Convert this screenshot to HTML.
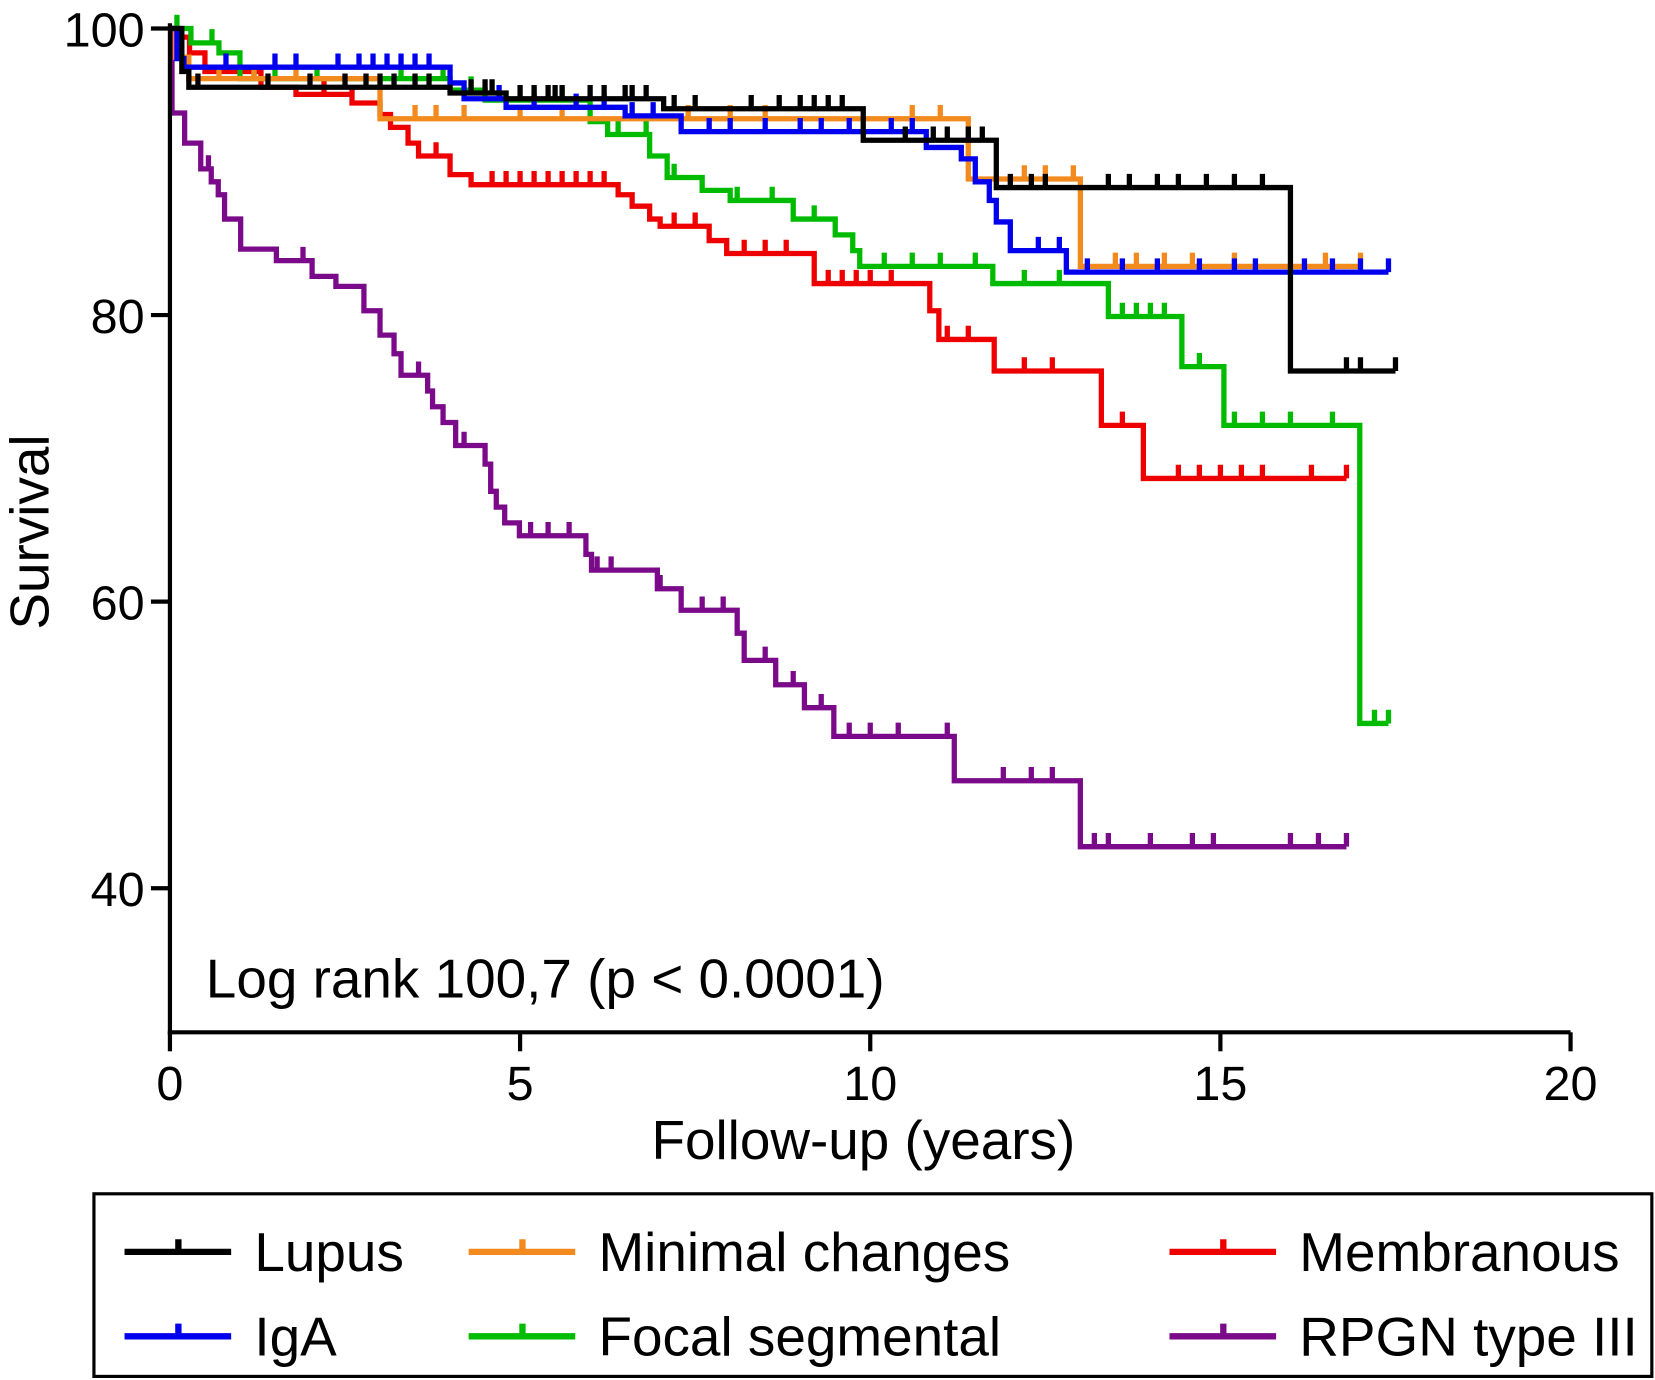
<!DOCTYPE html>
<html><head><meta charset="utf-8"><style>
html,body{margin:0;padding:0;background:#fff;}
svg{display:block;}
text{font-family:"Liberation Sans",Arial,sans-serif;fill:#000;}
</style></head><body>
<svg id="chart" width="1655" height="1380" viewBox="0 0 1568 1307.4" preserveAspectRatio="none" xmlns="http://www.w3.org/2000/svg">
<g id="plot"></g>
<line x1="161" y1="22" x2="161" y2="980" stroke="#000" stroke-width="4"/>
<line x1="159" y1="978" x2="1488" y2="978" stroke="#000" stroke-width="4"/>
<g id="axes"></g>
<text x="0" y="0" font-size="52" text-anchor="middle" transform="translate(46,504) rotate(-90)">Survival</text>
<text x="818" y="1098" font-size="52" text-anchor="middle">Follow-up (years)</text>
<text x="195" y="945" font-size="52">Log rank 100,7 (p &lt; 0.0001)</text>
<rect x="89" y="1131" width="1476" height="173" fill="none" stroke="#000" stroke-width="3"/>
<g id="legend"></g>
</svg>
<script>
const seriesNames = ["Lupus","Minimal changes","Membranous","IgA","Focal segmental","RPGN type III"];
const seriesColors = ["#000000","#f28a1e","#ee0000","#0000ee","#00bb00","#7b0a8a"];
const lupusSteps = [[0.17,97],[0.27,95.9],[4.0,95.5],[4.8,95.1],[7.05,94.4],[9.9,92.2],[11.8,88.9],[16.0,76.1]];
const minimalSteps = [[0.08,98],[0.27,96.5],[3.0,93.7],[11.4,89.5],[13.0,83.4]];
const membranousSteps = [[0.13,99.4],[0.28,98.3],[0.5,97],[1.3,95.9],[1.8,95.4],[2.6,94.8],[3.0,94.0],[3.15,93.1],[3.4,92.0],[3.55,91.1],[4.0,89.8],[4.3,89.1],[6.4,88.4],[6.6,87.6],[6.85,86.7],[7.0,86.2],[7.7,85.2],[7.95,84.3],[9.2,82.2],[10.85,80.3],[10.98,78.3],[11.77,76.1],[13.3,72.3],[13.9,68.6]];
const igaSteps = [[0.1,97.9],[0.2,97.3],[4.0,96.2],[4.2,95.1],[4.8,94.5],[6.5,93.9],[7.3,92.8],[10.8,91.7],[11.3,90.9],[11.5,89.3],[11.7,88.0],[11.8,86.5],[12.0,84.5],[12.8,83.0]];
const focalSteps = [[0.3,99],[0.7,98.3],[1.0,96.5],[4.0,95.7],[4.5,95.0],[6.0,93.5],[6.25,92.6],[6.85,91.1],[7.1,89.6],[7.6,88.7],[8.0,88.0],[8.9,86.7],[9.5,85.6],[9.75,84.5],[9.85,83.4],[11.75,82.2],[13.4,79.9],[14.45,76.4],[15.05,72.3],[16.99,51.5]];
const rpgnSteps = [[0.03,94.1],[0.21,92.0],[0.44,90.2],[0.59,89.3],[0.69,88.4],[0.78,86.7],[1.01,84.6],[1.52,83.8],[2.03,82.7],[2.37,82.0],[2.77,80.3],[3.0,78.6],[3.2,77.3],[3.3,75.8],[3.68,74.7],[3.75,73.6],[3.9,72.5],[4.08,70.9],[4.5,69.6],[4.58,67.7],[4.66,66.6],[4.78,65.5],[4.99,64.6],[5.94,63.3],[6.02,62.2],[6.96,60.9],[7.3,59.4],[8.1,57.8],[8.2,55.9],[8.65,54.2],[9.06,52.6],[9.48,50.6],[11.2,47.5],[13.0,42.9]];
const seriesEnds = [17.5,17.0,16.8,17.4,17.4,16.8];
const lupusCensor = [0.4,1.4,2.0,2.5,2.8,3.0,3.2,3.5,3.7,4.3,4.5,4.6,5.0,5.2,5.4,5.5,5.6,6.0,6.2,6.5,6.6,6.8,7.2,7.5,8.3,8.7,9.0,9.2,9.4,9.6,10.5,10.9,11.1,11.4,11.6,12.0,12.3,12.5,13.4,13.7,14.1,14.4,14.8,15.2,15.6,16.8,17.0,17.5];
const minimalCensor = [0.7,1.2,1.8,3.5,3.8,4.2,5.0,5.6,7.4,8.0,8.5,10.6,11.0,12.2,12.5,12.9,13.5,13.8,14.2,14.6,15.2,16.5,17.0];
const membranousCensor = [2.2,2.6,3.4,3.8,4.6,4.8,5.0,5.2,5.4,5.6,5.8,6.0,6.2,7.2,7.5,8.2,8.5,8.8,9.4,9.6,9.8,10.0,10.3,11.1,11.4,12.2,12.6,13.6,14.4,14.7,15.0,15.3,15.6,16.3,16.8];
const igaCensor = [0.8,1.5,1.8,2.4,2.7,2.9,3.1,3.3,3.5,3.7,4.7,5.2,5.8,6.2,6.6,6.9,7.7,8.0,8.5,9.0,9.3,9.7,10.3,10.6,12.4,12.7,13.1,13.6,14.1,14.7,15.2,15.5,16.2,16.6,17.0,17.4];
const focalCensor = [0.1,0.3,0.6,1.2,1.5,2.1,3.3,3.9,4.3,5.2,5.6,6.4,6.8,7.2,7.6,8.1,8.6,9.2,10.2,10.6,11.0,11.5,12.2,12.7,13.6,13.8,14.0,14.2,14.7,15.2,15.6,16.0,16.6,17.2,17.4];
const rpgnCensor = [0.55,1.9,3.2,3.55,4.2,5.15,5.4,5.7,6.1,6.3,7.0,7.6,7.9,8.5,8.9,9.3,9.7,10.0,10.4,11.1,11.9,12.3,12.6,13.2,13.4,14.0,14.6,14.9,16.0,16.4,16.8];
const xTicks = [0,5,10,15,20];
const yTicks = [40,60,80,100];

const NS = "http://www.w3.org/2000/svg";
const xS = t => 161 + 66.35 * t;
const yS = v => 27 + (100 - v) * 13.575;
const allSteps = [lupusSteps,minimalSteps,membranousSteps,igaSteps,focalSteps,rpgnSteps];
const allCensor = [lupusCensor,minimalCensor,membranousCensor,igaCensor,focalCensor,rpgnCensor];
const drawOrder = [5,2,4,1,3,0];
const plot = document.getElementById('plot');
function valAt(steps,t){let v=100;for(const s of steps){if(s[0]<=t)v=s[1];}return v;}
drawOrder.forEach(i=>{
  const steps = allSteps[i];
  let d = `M${xS(0)},${yS(100)}`;
  steps.forEach(s=>{d+=` H${xS(s[0])} V${yS(s[1])}`;});
  d += ` H${xS(seriesEnds[i])}`;
  allCensor[i].forEach(t=>{const v=valAt(steps,t);d+=` M${xS(t)},${yS(v)} V${yS(v)-13}`;});
  const p = document.createElementNS(NS,'path');
  p.setAttribute('d',d);p.setAttribute('fill','none');p.setAttribute('stroke',seriesColors[i]);
  p.setAttribute('stroke-width','5');
  
  
  plot.appendChild(p);
});
const axes = document.getElementById('axes');
xTicks.forEach(t=>{
  const l=document.createElementNS(NS,'line');
  l.setAttribute('x1',xS(t));l.setAttribute('x2',xS(t));l.setAttribute('y1',978);l.setAttribute('y2',996);
  l.setAttribute('stroke','#000');l.setAttribute('stroke-width','4');
  
  
  axes.appendChild(l);
  const tx=document.createElementNS(NS,'text');
  tx.setAttribute('x',xS(t));tx.setAttribute('y',1042);tx.setAttribute('font-size','46');tx.setAttribute('text-anchor','middle');
  tx.textContent=t;
  
  
  axes.appendChild(tx);
});
yTicks.forEach(v=>{
  const l=document.createElementNS(NS,'line');
  l.setAttribute('x1',143);l.setAttribute('x2',161);l.setAttribute('y1',yS(v));l.setAttribute('y2',yS(v));
  l.setAttribute('stroke','#000');l.setAttribute('stroke-width','4');
  
  
  axes.appendChild(l);
  const tx=document.createElementNS(NS,'text');
  tx.setAttribute('x',137);tx.setAttribute('y',yS(v)+17);tx.setAttribute('font-size','46');tx.setAttribute('text-anchor','end');
  tx.textContent=v;
  
  
  axes.appendChild(tx);
});
const legend = document.getElementById('legend');
const legCols = [118,444,1108];
const legOrder = [0,1,2,3,4,5];
legOrder.forEach((i,k)=>{
  const col = k%3, row = Math.floor(k/3);
  const yy = row===0?1186:1266;
  const x0 = legCols[col];
  const g=document.createElementNS(NS,'g');
  
  
  const p=document.createElementNS(NS,'path');
  p.setAttribute('d',`M${x0},${yy} H${x0+101} M${x0+51},${yy} V${yy-12}`);
  p.setAttribute('stroke',seriesColors[i]);p.setAttribute('stroke-width','6');p.setAttribute('fill','none');
  g.appendChild(p);
  const tx=document.createElementNS(NS,'text');
  tx.setAttribute('x',x0+123);tx.setAttribute('y',yy+18);tx.setAttribute('font-size','52');
  tx.textContent=seriesNames[i];
  g.appendChild(tx);
  legend.appendChild(g);
});
</script>
</body></html>
